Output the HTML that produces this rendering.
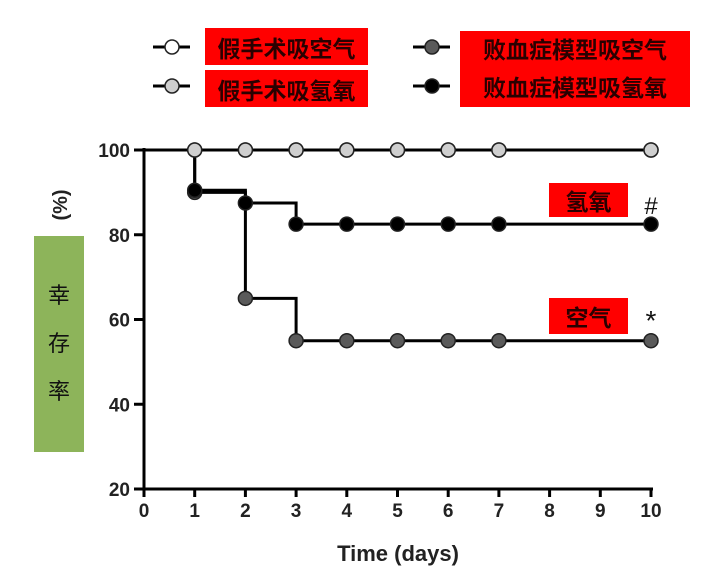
<!DOCTYPE html>
<html><head><meta charset="utf-8"><style>
body{margin:0;background:#fff;width:713px;height:578px;overflow:hidden;font-family:"Liberation Sans","Noto Sans CJK SC",sans-serif}
.lab{position:absolute;background:#ff0000;color:#2a0000;font-weight:bold;font-family:"Liberation Sans","Noto Sans CJK SC",sans-serif;font-size:23px;display:flex;align-items:center;justify-content:center}
</style></head><body>
<div class="lab" style="left:205px;top:28px;width:163px;height:37px">假手术吸空气</div>
<div class="lab" style="left:205px;top:70px;width:163px;height:37px">假手术吸氢氧</div>
<div class="lab" style="left:460px;top:31px;width:230px;height:76px;flex-direction:column;line-height:38px">败血症模型吸空气<br>败血症模型吸氢氧</div>
<div class="lab" style="left:549px;top:183px;width:79px;height:34px">氢氧</div>
<div class="lab" style="left:549px;top:298px;width:79px;height:36px">空气</div>
<div style="position:absolute;left:34px;top:236px;width:50px;height:216px;background:#8db45a;color:#111;font-size:22px;display:flex;flex-direction:column;align-items:center;justify-content:center;line-height:48px">幸<br>存<br>率</div>
<svg id="c" width="713" height="578" style="position:absolute;left:0;top:0" xmlns="http://www.w3.org/2000/svg"></svg>
<script>
const days=[0,1,2,3,4,5,6,7,10];
const shamAir=[100,100,100,100,100,100,100,100,100];
const shamH2=[100,100,100,100,100,100,100,100,100];
const sepAir=[100,90,65,55,55,55,55,55,55];
const sepH2=[100,90.5,87.5,82.5,82.5,82.5,82.5,82.5,82.5];
const xTicks=[0,1,2,3,4,5,6,7,8,9,10];
const yTicks=[20,40,60,80,100];
const X=d=>144+d*50.7, Y=v=>489-(v-20)*4.2375;
const svg=document.getElementById('c');
const NS='http://www.w3.org/2000/svg';
function mk(t,a,txt){const e=document.createElementNS(NS,t);for(const k in a)e.setAttribute(k,a[k]);if(txt!=null)e.textContent=txt;svg.appendChild(e);return e;}
let e;
e=mk('line',{x1:X(0),y1:Y(20)+2,x2:X(0),y2:Y(100)-2,stroke:'#000','stroke-width':3});


e=mk('line',{x1:X(0)-2,y1:Y(20),x2:X(10)+2,y2:Y(20),stroke:'#000','stroke-width':3});


xTicks.forEach(t=>{
 e=mk('line',{x1:X(t),y1:Y(20),x2:X(t),y2:Y(20)+8,stroke:'#000','stroke-width':3});
 
 
 e=mk('text',{x:X(t),y:Y(20)+28,'text-anchor':'middle','font-size':19,'font-weight':'bold',fill:'#222'},t);
 
 
});
yTicks.forEach(t=>{
 e=mk('line',{x1:X(0)-10,y1:Y(t),x2:X(0),y2:Y(t),stroke:'#000','stroke-width':3});
 
 
 e=mk('text',{x:X(0)-14,y:Y(t)+7,'text-anchor':'end','font-size':19,'font-weight':'bold',fill:'#222'},t);
 
 
});
e=mk('text',{x:398,y:561,'text-anchor':'middle','font-size':22,'font-weight':'bold',fill:'#222'},'Time (days)');


e=mk('text',{x:0,y:0,'text-anchor':'middle','font-size':20,'font-weight':'bold',fill:'#222',transform:'translate(67,205) rotate(-90)'},'(%)');


function step(vals){let d='M'+X(days[0])+','+Y(vals[0]);for(let i=1;i<days.length;i++){d+=' H'+X(days[i])+' V'+Y(vals[i]);}return d;}
const series=[[shamAir,'#fff','sham-air'],[sepAir,'#5a5a5a','sepsis-air'],[sepH2,'#000','sepsis-h2'],[shamH2,'#cfcfcf','sham-h2']];
series.forEach(([v,c,n])=>{
 e=mk('path',{d:step(v),fill:'none',stroke:'#000','stroke-width':3});
 
 
});
series.forEach(([v,c,n])=>{
 days.forEach((d,i)=>{if(d===0)return;
  e=mk('circle',{cx:X(d),cy:Y(v[i]),r:7,fill:c,stroke:'#222','stroke-width':1.5});
  
  
 });
});
e=mk('text',{x:651,y:214,'text-anchor':'middle','font-size':24,fill:'#111'},'#');


e=mk('text',{x:651,y:330,'text-anchor':'middle','font-size':28,fill:'#111'},'*');


const leg=[[153,47,'#fff','sham-air'],[153,86,'#cfcfcf','sham-h2'],[413,47,'#5a5a5a','sepsis-air'],[413,86,'#000','sepsis-h2']];
leg.forEach(([x,y,c,n])=>{
 e=mk('line',{x1:x,y1:y,x2:x+37,y2:y,stroke:'#000','stroke-width':3});
 
 
 e=mk('circle',{cx:x+19,cy:y,r:7,fill:c,stroke:'#222','stroke-width':1.5});
 
 
});
</script>
</body></html>
